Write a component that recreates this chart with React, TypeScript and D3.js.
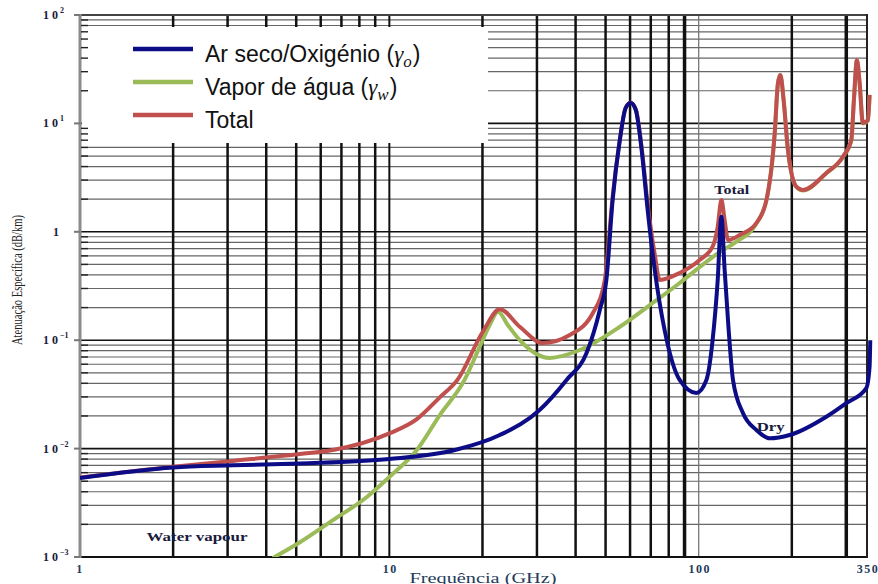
import React, { useEffect, useRef } from "react";
import * as d3 from "d3";

const W = 878;
const H = 584;

// [GHz, dB/km]
const dryPoints: [number, number][] = [
  [1, 0.00536], [2, 0.0067], [3.12, 0.00701], [5.14, 0.0073], [10, 0.00802],
  [16.3, 0.00971], [22.75, 0.01335], [30.6, 0.0227], [37.4, 0.043], [43.4, 0.0762],
  [47.9, 0.19], [50.3, 0.359], [52.7, 1.96], [55.6, 7.03], [58.1, 13.9],
  [60.3, 15.4], [62.6, 13.3], [65.4, 5.69], [68.4, 1.59], [72.1, 0.445],
  [77.6, 0.124], [86.8, 0.043], [98.3, 0.0326], [105.9, 0.043], [110.9, 0.1],
  [115.2, 0.359], [118.4, 1.38], [121.3, 0.445], [125, 0.124], [129.1, 0.043],
  [139, 0.0213], [153.6, 0.01485], [169.6, 0.01245], [196.8, 0.01335], [258.6, 0.0197],
  [300, 0.0263], [348.3, 0.0362], [356.8, 0.057], [358.6, 0.1],
];

const wetPoints: [number, number][] = [
  [4.2, 0.00098], [5.14, 0.00137], [6.57, 0.00219], [8.46, 0.00358], [10, 0.00547],
  [12.27, 0.00971], [14.56, 0.0204], [17.5, 0.043], [19.6, 0.0871], [21.1, 0.138],
  [22.47, 0.183], [24.15, 0.138], [26.4, 0.1], [29.5, 0.0762], [33, 0.0686],
  [41.3, 0.0812], [55.6, 0.133], [69.5, 0.211], [86.8, 0.337], [100.7, 0.473],
  [117, 0.651], [132.4, 0.811], [153.6, 1.19], [165.5, 1.94], [176.1, 8.1],
  [180.4, 23.5], [183.6, 27.9], [188.2, 16.3], [194.3, 5.65], [206.9, 2.59],
  [217.3, 2.41], [258.6, 3.47], [292.6, 4.9], [311.4, 7.0], [317.5, 16.3],
  [324.7, 38.4], [331.3, 23.5], [339.5, 10.0], [352.4, 10.6], [356.8, 18.2],
];

const totalPoints: [number, number][] = [
  [1, 0.0054], [2, 0.0068], [3.12, 0.0077], [5.14, 0.0089], [6.57, 0.0097],
  [10, 0.0138], [12.27, 0.0187], [14.56, 0.0297], [16.6, 0.043], [20.05, 0.1197],
  [22.75, 0.193], [26.4, 0.133], [31.3, 0.0942], [38.3, 0.1117], [45.5, 0.178],
  [49.7, 0.359], [52.7, 2.1], [55.6, 7.1], [58.1, 14], [60.3, 15.5],
  [62.6, 13.5], [65.4, 6.0], [68.4, 1.8], [72.1, 0.62], [74.8, 0.36],
  [86.8, 0.417], [100.7, 0.55], [110.9, 0.729], [115.2, 1.114], [118.4, 1.96],
  [121.3, 1.285], [124.4, 0.84], [135.7, 0.934], [153.6, 1.205], [165.5, 1.96],
  [176.1, 8.15], [180.4, 23.6], [183.6, 27.96], [188.2, 16.4], [194.3, 5.68],
  [206.9, 2.61], [217.3, 2.43], [258.6, 3.49], [292.6, 4.93], [311.4, 7.03],
  [317.5, 16.4], [324.7, 38.5], [331.3, 23.6], [339.5, 10.1], [352.4, 10.7],
  [356.8, 18.3],
];

const xLabelValues = [1, 10, 100, 350];
const xLabels = ["1", "10", "100", "350"];
const yDecades = [1e-3, 1e-2, 1e-1, 1, 1e1, 1e2];
const yExponents = ["\u22123", "\u22122", "\u22121", "", "1", "2"];

const legendNames = ["Ar seco/Oxigénio", "Vapor de água", "Total"];
const legendSubs = ["o", "w", ""];
const legendColors = ["#0c0c86", "#9bbb59", "#c0504d"];

const annotations = [
  { text: "Total", f: 127.9, v: 2.23, len: 35 },
  { text: "Dry", f: 170.9, v: 0.0145, len: 28 },
  { text: "Water vapour", f: 2.39, v: 0.00141, len: 101 },
];

export default function App() {
  const ref = useRef<SVGSVGElement>(null);

  useEffect(() => {
    const svg = d3.select(ref.current);
    svg.selectAll("*").remove();

    const x = d3.scaleLog().domain([1, 350]).range([80, 867]);
    const y = d3.scaleLog().domain([1e-3, 1e2]).range([557, 15]);
    const isDecade = (v: number) =>
      Math.abs(Math.log10(v) - Math.round(Math.log10(v))) < 1e-9;

    // horizontal grid
    y.ticks().forEach((t) => {
      svg.append("line")
        .attr("x1", 80).attr("x2", 867)
        .attr("y1", y(t)).attr("y2", y(t))
        .attr("stroke", isDecade(t) ? "#111" : "#666")
        .attr("stroke-width", isDecade(t) ? 1.6 : 1.2);
    });

    // vertical grid
    x.ticks().filter((t) => t > 1).forEach((t) => {
      let w = 2.5, c = "#111";
      if (t === 100) { w = 1.3; c = "#777"; }
      else if (t === 10) w = 2;
      else if (t === 90 || t === 300) w = 3.5;
      svg.append("line")
        .attr("x1", x(t)).attr("x2", x(t))
        .attr("y1", 15).attr("y2", 557)
        .attr("stroke", c).attr("stroke-width", w);
    });

    // legend background
    svg.append("rect")
      .attr("x", 82).attr("y", 27).attr("width", 406).attr("height", 116)
      .attr("fill", "#fff");

    // frame
    svg.append("line").attr("x1", 80).attr("x2", 867).attr("y1", 15).attr("y2", 15)
      .attr("stroke", "#444").attr("stroke-width", 2);
    svg.append("line").attr("x1", 80).attr("x2", 868).attr("y1", 557).attr("y2", 557)
      .attr("stroke", "#111").attr("stroke-width", 2);
    svg.append("line").attr("x1", 867).attr("x2", 867).attr("y1", 14).attr("y2", 558)
      .attr("stroke", "#222").attr("stroke-width", 2);
    svg.append("line").attr("x1", 80).attr("x2", 80).attr("y1", 14).attr("y2", 558)
      .attr("stroke", "#8c8c8c").attr("stroke-width", 3);

    // left ticks
    y.ticks().forEach((t) => {
      if (isDecade(t)) {
        svg.append("line").attr("x1", 74).attr("x2", 80)
          .attr("y1", y(t)).attr("y2", y(t))
          .attr("stroke", "#777").attr("stroke-width", 2);
      } else {
        svg.append("line").attr("x1", 81).attr("x2", 88)
          .attr("y1", y(t)).attr("y2", y(t))
          .attr("stroke", "#222").attr("stroke-width", 1.4);
      }
    });

    // curves
    svg.append("clipPath").attr("id", "plotClip")
      .append("rect").attr("x", 80).attr("y", 10).attr("width", 795).attr("height", 547);

    const line = d3.line<[number, number]>()
      .x((d) => x(d[0]))
      .y((d) => y(d[1]))
      .curve(d3.curveMonotoneX);

    const curves = svg.append("g").attr("clip-path", "url(#plotClip)");
    [
      { data: wetPoints, color: legendColors[1] },
      { data: totalPoints, color: legendColors[2] },
      { data: dryPoints, color: legendColors[0] },
    ].forEach((s) => {
      curves.append("path")
        .attr("d", line(s.data))
        .attr("fill", "none")
        .attr("stroke", s.color)
        .attr("stroke-width", 4)
        .attr("stroke-linejoin", "round");
    });

    // annotations
    annotations.forEach((a) => {
      svg.append("text")
        .attr("x", x(a.f)).attr("y", y(a.v))
        .attr("text-anchor", "middle")
        .attr("font-family", "'Liberation Serif', serif")
        .attr("font-weight", "bold")
        .attr("font-size", 12)
        .attr("fill", "#1a1a3c")
        .attr("textLength", a.len)
        .attr("lengthAdjust", "spacingAndGlyphs")
        .text(a.text);
    });

    // legend
    legendNames.forEach((name, i) => {
      const ly = 49 + i * 33;
      svg.append("line")
        .attr("x1", 133).attr("x2", 193).attr("y1", ly).attr("y2", ly)
        .attr("stroke", legendColors[i]).attr("stroke-width", 4.5);
      const t = svg.append("text")
        .attr("x", 205).attr("y", ly + 13)
        .attr("font-family", "'Liberation Sans', Arial, sans-serif")
        .attr("font-size", 23)
        .attr("fill", "#111");
      if (legendSubs[i]) {
        t.append("tspan").text(name + " (");
        t.append("tspan")
          .attr("font-family", "'Liberation Serif', serif")
          .attr("font-style", "italic")
          .text("\u03b3");
        t.append("tspan")
          .attr("font-family", "'Liberation Serif', serif")
          .attr("font-style", "italic")
          .attr("font-size", 17)
          .attr("dy", 5)
          .text(legendSubs[i]);
        t.append("tspan").attr("dy", -5).attr("dx", 1).text(")");
      } else {
        t.text(name);
      }
    });

    // y tick labels
    yDecades.forEach((d, i) => {
      const t = svg.append("text")
        .attr("y", y(d) + 4)
        .attr("font-family", "'Liberation Serif', serif")
        .attr("font-weight", "bold")
        .attr("font-size", 12)
        .attr("fill", "#1a1a3c");
      if (yExponents[i] === "") {
        t.attr("x", 53).text("1");
      } else {
        t.attr("x", 43);
        t.append("tspan").attr("letter-spacing", 3).text("10");
        t.append("tspan").attr("font-size", 8).attr("dx", -1).attr("dy", -6)
          .text(yExponents[i]);
      }
    });

    // x tick labels
    xLabelValues.forEach((v, i) => {
      svg.append("text")
        .attr("x", x(v) + (i === 0 ? 0 : 1)).attr("y", 573)
        .attr("text-anchor", "middle")
        .attr("font-family", "'Liberation Serif', serif")
        .attr("font-weight", "bold")
        .attr("font-size", 12)
        .attr("letter-spacing", 1.5)
        .attr("fill", "#243a5a")
        .text(xLabels[i]);
    });

    // axis titles
    svg.append("text")
      .attr("x", 483).attr("y", 583)
      .attr("text-anchor", "middle")
      .attr("font-family", "'Liberation Serif', serif")
      .attr("font-size", 14)
      .attr("fill", "#243a5a")
      .attr("textLength", 147)
      .attr("lengthAdjust", "spacingAndGlyphs")
      .text("Frequência (GHz)");

    svg.append("text")
      .attr("transform", "translate(22,280) rotate(-90)")
      .attr("text-anchor", "middle")
      .attr("font-family", "'Liberation Serif', serif")
      .attr("font-size", 15)
      .attr("fill", "#222")
      .attr("textLength", 130)
      .attr("lengthAdjust", "spacingAndGlyphs")
      .text("Atenuação Específica (dB/km)");
  }, []);

  return (
    <svg
      ref={ref}
      width={W}
      height={H}
      style={{ position: "absolute", left: 0, top: 0, background: "#fff", display: "block" }}
    />
  );
}
